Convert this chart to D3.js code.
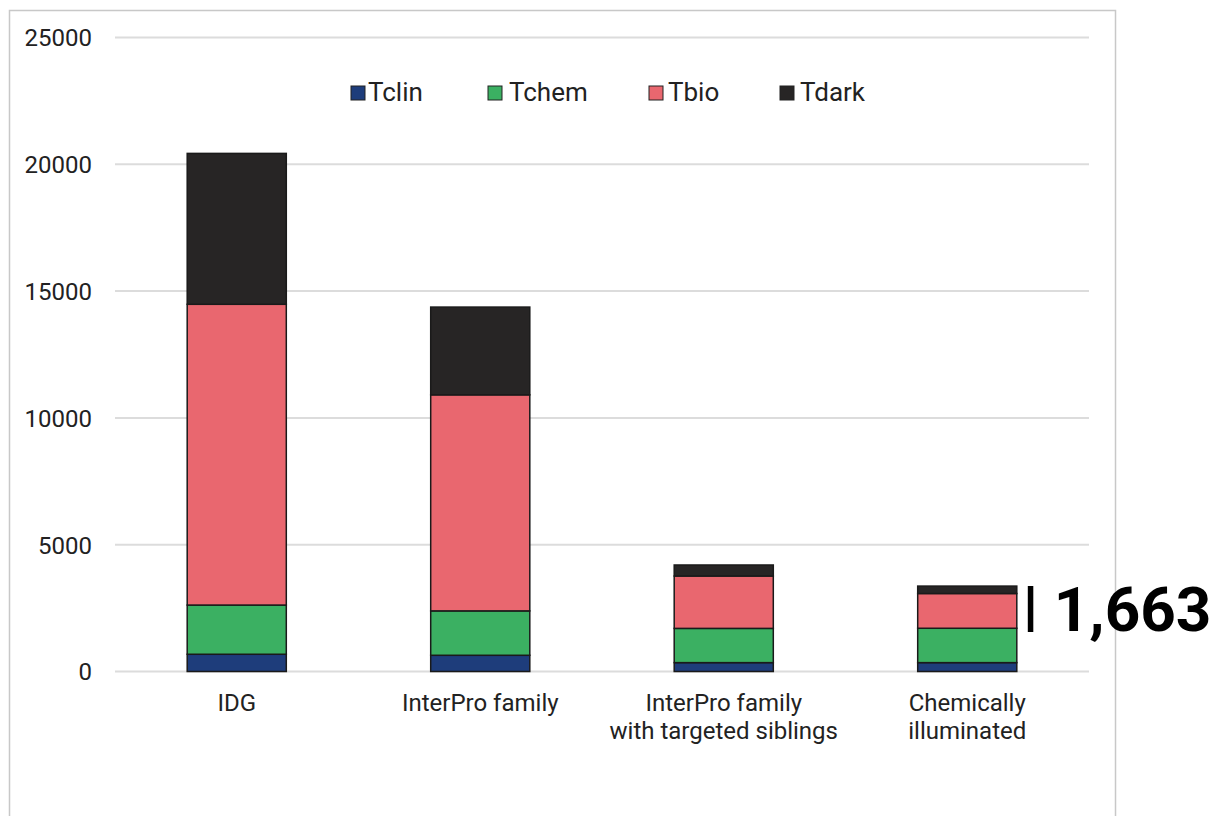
<!DOCTYPE html>
<html>
<head>
<meta charset="utf-8">
<script src="https://cdn.jsdelivr.net/npm/d3@7/dist/d3.min.js"></script>
<style>
  html, body { margin: 0; padding: 0; background: #fff; }
  svg { display: block; font-family: Roboto, "Noto Sans", sans-serif; }
</style>
</head>
<body>
<svg id="chart" width="1217" height="816"></svg>
<script>
// ---- data ----
const categories = ["IDG", "InterPro family", "InterPro family\nwith targeted siblings", "Chemically\nilluminated"];
const seriesNames = ["Tclin", "Tchem", "Tbio", "Tdark"];
const tclin = [680, 640, 350, 350];
const tchem = [1940, 1750, 1350, 1355];
const tbio  = [11860, 8520, 2065, 1370];
const tdark = [5950, 3460, 435, 293];
const yTicks = [0, 5000, 10000, 15000, 20000, 25000];
const annotationLabel = "1,663";
const seriesColors = ["#1e3d7b", "#3bb062", "#e9676f", "#272525"];

// ---- build ----
const rows = categories.map((c, i) => ({
  cat: c, Tclin: tclin[i], Tchem: tchem[i], Tbio: tbio[i], Tdark: tdark[i]
}));
const svg = d3.select("#chart");

// frame
svg.append("rect")
  .attr("x", 9.5).attr("y", 10.5).attr("width", 1106).attr("height", 900)
  .attr("fill", "#fff").attr("stroke", "#c8c8c8").attr("stroke-width", 1.5);

const x = d3.scaleBand().domain(categories).range([115, 1089])
  .paddingInner(0.593).paddingOuter(0.2965);
const y = d3.scaleLinear().domain([0, 25000]).range([671.5, 37.5]);
const color = d3.scaleOrdinal().domain(seriesNames).range(seriesColors);

// gridlines
svg.append("g").selectAll("line").data(yTicks).join("line")
  .attr("x1", 115).attr("x2", 1089)
  .attr("y1", d => y(d)).attr("y2", d => y(d))
  .attr("stroke", "#dcdcdc").attr("stroke-width", 2);

// y axis labels
const yAxis = d3.axisLeft(y).tickValues(yTicks).tickFormat(d3.format("d")).tickSize(0).tickPadding(0);
const yg = svg.append("g").attr("transform", "translate(92,0)").call(yAxis);
yg.select(".domain").remove();
yg.selectAll("text").attr("font-size", 24).attr("fill", "#222")
  .attr("font-family", "Roboto, sans-serif").attr("dy", "0.35em");

// stacked bars
const stack = d3.stack().keys(seriesNames)(rows);
svg.append("g").selectAll("g").data(stack).join("g")
  .attr("fill", d => color(d.key))
  .selectAll("rect").data(d => d).join("rect")
  .attr("x", d => x(d.data.cat))
  .attr("width", x.bandwidth())
  .attr("y", d => y(d[1]))
  .attr("height", d => y(d[0]) - y(d[1]))
  .attr("stroke", "#1a1a1a").attr("stroke-width", 1.5);

// x axis labels
const xg = svg.append("g");
categories.forEach(c => {
  const lines = c.split("\n");
  const cx = x(c) + x.bandwidth() / 2;
  const t = xg.append("text")
    .attr("x", cx).attr("y", 711)
    .attr("text-anchor", "middle").attr("font-size", 24).attr("fill", "#222");
  lines.forEach((ln, i) => {
    t.append("tspan").attr("x", cx).attr("dy", i === 0 ? 0 : 28).text(ln);
  });
});

// legend
const legendSq = [351, 488, 649, 780];
const legendTx = [368, 509, 668, 800];
const lg = svg.append("g");
seriesNames.forEach((s, i) => {
  lg.append("rect").attr("x", legendSq[i]).attr("y", 86).attr("width", 14).attr("height", 14)
    .attr("fill", color(s)).attr("stroke", "#222").attr("stroke-width", 1);
  lg.append("text").attr("x", legendTx[i]).attr("y", 101)
    .attr("font-size", 26).attr("fill", "#222").text(s);
});

// annotation
const lastCat = categories[3];
const annX = x(lastCat) + x.bandwidth() + 11;
svg.append("rect").attr("x", annX).attr("y", 586).attr("width", 5.5).attr("height", 46).attr("fill", "#000");
svg.append("text").attr("x", annX + 26).attr("y", 631)
  .attr("font-size", 62).attr("font-weight", "bold").attr("fill", "#000")
  .attr("font-family", "Roboto, sans-serif").text(annotationLabel);
</script>
</body>
</html>
